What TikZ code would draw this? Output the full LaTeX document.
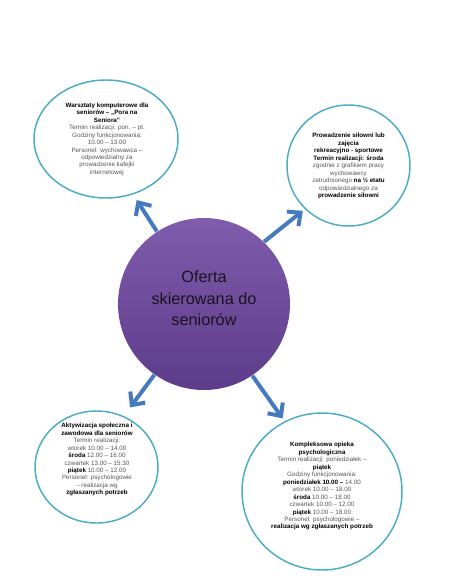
\documentclass[tikz,border=0pt]{standalone}
\usepackage{fontspec}
\setmainfont{Liberation Sans}
\usetikzlibrary{shapes.geometric,arrows.meta}

\definecolor{ringteal}{RGB}{75,172,198}
\definecolor{linkblue}{RGB}{70,122,190}
\definecolor{offertop}{RGB}{128,92,172}
\definecolor{offerbottom}{RGB}{92,60,138}
\definecolor{bodygray}{RGB}{85,85,85}
\newcommand{\bfblack}[1]{\textbf{\textcolor{black}{#1}}}

\tikzset{every picture/.style={line width=0.75pt},
  bubble/.style={ellipse, draw=ringteal, line width=1.1pt, inner sep=0pt},
  infotext/.style={align=center, text=bodygray, inner sep=0pt, font=\fontsize{4.7}{5.6}\selectfont},
  link/.style={draw=linkblue, line width=3pt, -{Straight Barb[length=7.5pt,width=14pt]}}
}

\begin{document}
\begin{tikzpicture}[x=0.75pt,y=0.75pt,yscale=-1,xscale=1]
\useasboundingbox (0,0) rectangle (449,588);

%Shape: Circle [id:offer]
\node [circle, minimum size=129pt, inner sep=0pt, top color=offertop, bottom color=offerbottom] (offer) at (204,304) {};
%Shape: Ellipse [id:tl]
\node [bubble, minimum width=108pt, minimum height=88.5pt] (tl) at (106,139) {};
%Shape: Ellipse [id:tr]
\node [bubble, minimum width=92.25pt, minimum height=90.75pt] (tr) at (348.5,165.5) {};
%Shape: Ellipse [id:bl]
\node [bubble, minimum width=92.25pt, minimum height=84pt] (bl) at (96.5,467) {};
%Shape: Ellipse [id:br]
\node [bubble, minimum width=120pt, minimum height=117.75pt] (br) at (322,491.5) {};

%Straight Lines [id:arrows]
\draw [link, shorten >=5pt] (offer.123) -- (tl.-64);
\draw [link, shorten >=2pt] (offer.46) -- (tr.-135);
\draw [link, shorten >=8pt] (offer.-125) -- (bl.62);
\draw [link, shorten >=2.6pt] (offer.-56) -- (br.118);

% Text Node
\node [align=center, inner sep=0pt, text={rgb,255:red,25;green,20;blue,30}, font=\fontsize{12.2}{16}\selectfont] (offertext) at (204,298.5) {Oferta\\skierowana do\\seniorów};
% Text Node
\node [infotext] (tltext) at (107,139.2) {\bfblack{Warsztaty komputerowe dla}\\\bfblack{seniorów – „Pora na}\\\bfblack{Seniora”}\\Termin realizacji: pon. – pt.\\Godziny funkcjonowania:\\10.00 – 13.00\\Personel: wychowawca –\\odpowiedzialny za\\prowadzenie kafejki\\internetowej};
% Text Node
\node [infotext] (trtext) at (348.5,166) {\bfblack{Prowadzenie siłowni lub}\\\bfblack{zajęcia}\\\bfblack{rekreacyjno - sportowe}\\\bfblack{Termin realizacji: środa}\\zgodnie z grafikiem pracy\\wychowawcy\\zatrudnionego \bfblack{na ½ etatu}\\odpowiedzialnego za\\\bfblack{prowadzenie siłowni}};
% Text Node
\node [infotext] (bltext) at (97,459.7) {\bfblack{Aktywizacja społeczna i}\\\bfblack{zawodowa dla seniorów}\\Termin realizacji:\\wtorek 10.00 – 14.00\\\bfblack{środa} 12.00 – 16.00\\czwartek 13.00 – 15.30\\\bfblack{piątek} 10.00 – 12.00\\Personel: psychologowie\\– realizacja wg\\\bfblack{zgłaszanych potrzeb}};
% Text Node
\node [infotext] (brtext) at (322,486.3) {\bfblack{Kompleksowa opieka}\\\bfblack{psychologiczna}\\Termin realizacji: poniedziałek –\\\bfblack{piątek}\\Godziny funkcjonowania:\\\bfblack{poniedziałek 10.00 –} 14.00\\wtorek 10.00 – 18.00\\\bfblack{środa} 10.00 – 18.00\\czwartek 10.00 – 12.00\\\bfblack{piątek} 10.00 – 18.00\\Personel: psychologowie –\\\bfblack{realizacja wg zgłaszanych potrzeb}};

\end{tikzpicture}
\end{document}
